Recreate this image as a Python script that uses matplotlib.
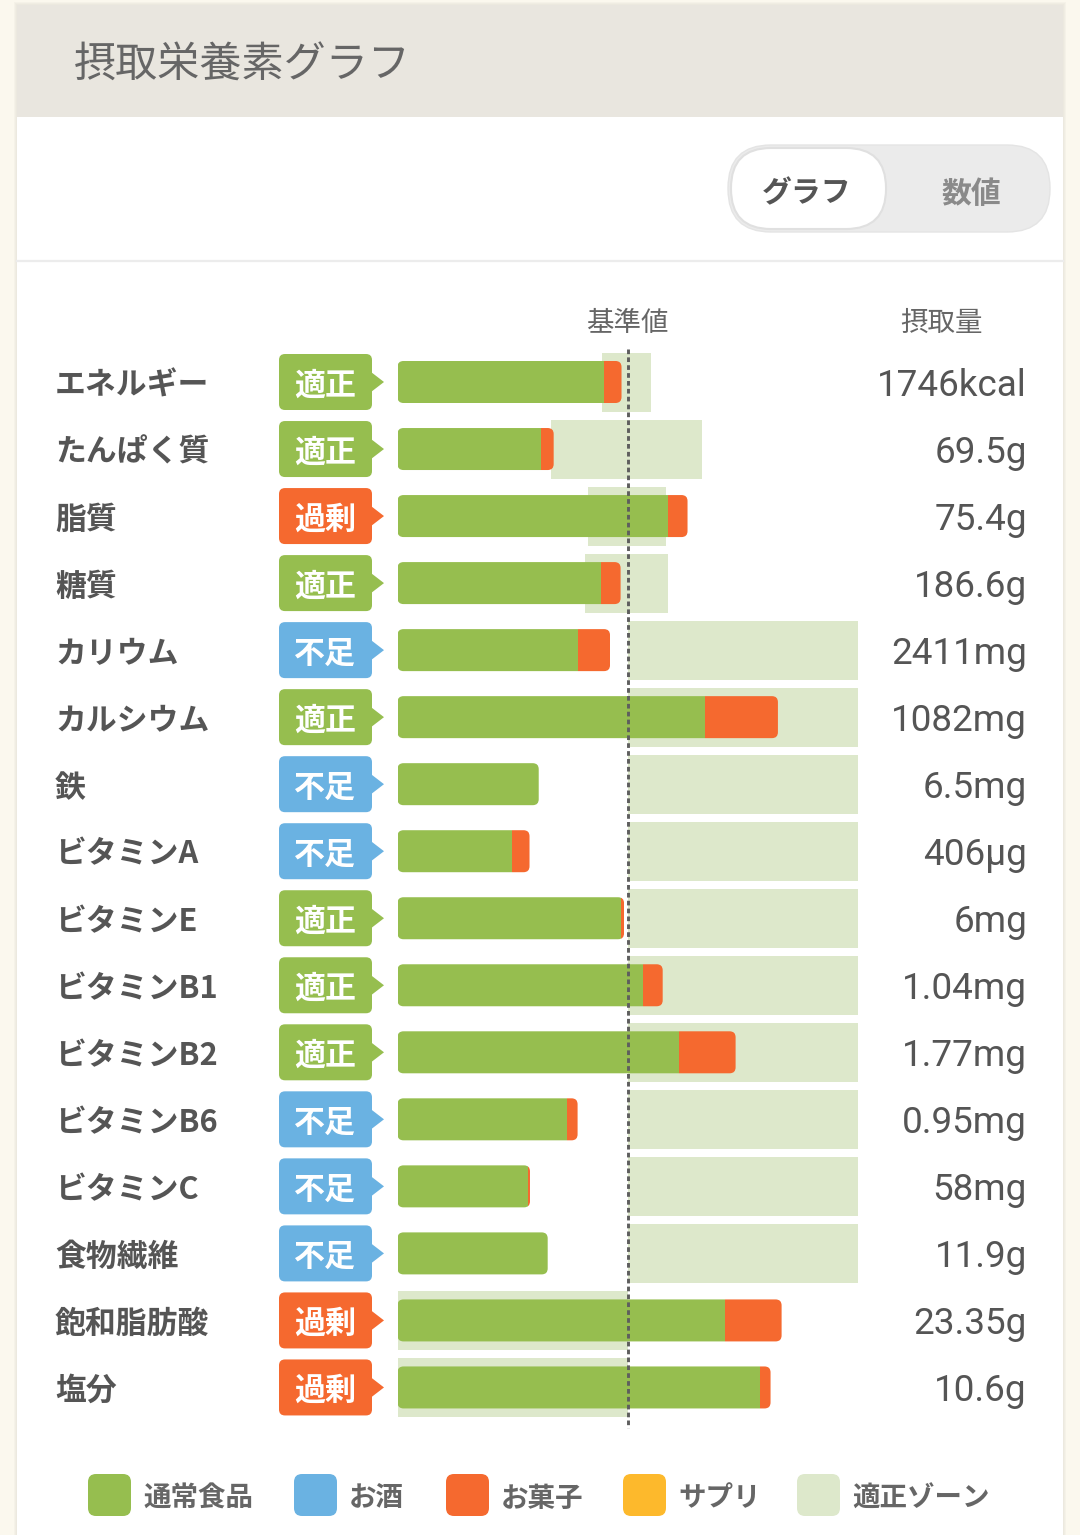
import matplotlib
matplotlib.use("Agg")
import matplotlib.pyplot as plt
from matplotlib.patches import FancyBboxPatch, Rectangle, Polygon
from matplotlib import transforms

plt.rcParams['font.family'] = ['Noto Sans CJK JP', 'DejaVu Sans']

# ---------------- data ----------------
nutrients = ['エネルギー', 'たんぱく質', '脂質', '糖質', 'カリウム', 'カルシウム', '鉄',
             'ビタミンA', 'ビタミンE', 'ビタミンB1', 'ビタミンB2', 'ビタミンB6',
             'ビタミンC', '食物繊維', '飽和脂肪酸', '塩分']
status = ['適正', '適正', '過剰', '適正', '不足', '適正', '不足', '不足', '適正', '適正',
          '適正', '不足', '不足', '不足', '過剰', '過剰']
intake_labels = ['1746kcal', '69.5g', '75.4g', '186.6g', '2411mg', '1082mg', '6.5mg',
                 '406µg', '6mg', '1.04mg', '1.77mg', '0.95mg', '58mg', '11.9g',
                 '23.35g', '10.6g']
# % of the reference value (基準値 = 100)
food_pct = [89.8, 62.4, 117.6, 88.5, 78.5, 133.7, 61.4, 49.8, 97.2, 106.7, 122.4,
            73.7, 56.7, 65.3, 142.2, 157.6]
alcohol_pct = [0] * 16
snack_pct = [7.6, 5.5, 8.5, 8.5, 13.9, 31.7, 0, 7.6, 1.3, 8.6, 24.6, 4.6, 0.9, 0,
             24.8, 4.6]
supplement_pct = [0] * 16
zone_low = [88.7, 66.7, 82.8, 81.5, 100, 100, 100, 100, 100, 100, 100, 100, 100, 100,
            0, 0]
zone_high = [110.4, 132.4, 116.6, 117.4, 200, 200, 200, 200, 200, 200, 200, 200, 200,
             200, 100, 100]
REF = 100
legend_labels = ['通常食品', 'お酒', 'お菓子', 'サプリ', '適正ゾーン']

# ---------------- styles ----------------
C_FOOD = '#96BE4F'
C_ALC = '#6AB2E2'
C_SNACK = '#F5692F'
C_SUPP = '#FDB92C'
C_ZONE = '#DDE8CB'
legend_colors = [C_FOOD, C_ALC, C_SNACK, C_SUPP, C_ZONE]
badge_colors = {'適正': C_FOOD, '過剰': C_SNACK, '不足': C_ALC}
TXT = '#555555'
DY = 3.5  # vertical text nudge in px

W, H = 1080, 1535
fig = plt.figure(figsize=(W / 100, H / 100), dpi=100)
fig.patch.set_facecolor('#FBF8EE')

bg = fig.add_axes([0, 0, 1, 1])
bg.set_xlim(0, W)
bg.set_ylim(H, 0)
bg.axis('off')

# card with soft shadow
for k, a in enumerate([0.025, 0.02, 0.015]):
    bg.add_patch(Rectangle((17 - 3 + k, 5 - 3 + k), 1046 + 6 - 2 * k, H, facecolor='#000000',
                           alpha=a, edgecolor='none', zorder=0))
bg.add_patch(Rectangle((17, 5), 1046, H, facecolor='white', edgecolor='none', zorder=1))
bg.add_patch(Rectangle((17, 5), 1046, 112, facecolor='#E9E6DF', edgecolor='none', zorder=2))
bg.text(74, 62 + DY, '摂取栄養素グラフ', fontsize=30.3, color='#666666', va='center',
        ha='left', zorder=3)
bg.plot([17, 1063], [261, 261], color='#ECECEC', lw=1.6, zorder=2)

# toggle
bg.add_patch(FancyBboxPatch((728, 145), 322, 87, boxstyle='round,pad=0,rounding_size=43',
                            facecolor='#EBEBEB', edgecolor='#E4E4E4', lw=1, zorder=2))
bg.add_patch(FancyBboxPatch((731, 148), 155, 81, boxstyle='round,pad=0,rounding_size=40',
                            facecolor='white', edgecolor='#E0E0E0', lw=1.5, zorder=3))
bg.text(807, 190 + DY, 'グラフ', fontsize=21.5, fontweight='bold', color='#555555',
        ha='center', va='center', zorder=4)
bg.text(971, 190 + DY, '数値', fontsize=21.5, fontweight='bold', color='#8A8A8A',
        ha='center', va='center', zorder=4)

# column headers
bg.text(627, 320 + DY, '基準値', fontsize=19.8, color='#666666', ha='center', va='center',
        zorder=3)
bg.text(941, 320 + DY, '摂取量', fontsize=19.8, color='#666666', ha='center', va='center',
        zorder=3)

# ---------------- bar axes ----------------
n = len(nutrients)
row0, pitch = 382.0, 67.03
top_px, bot_px = 340.0, 1430.0
x0_px, x1_px = 397.5, 857.5
ax = fig.add_axes([x0_px / W, (H - bot_px) / H, (x1_px - x0_px) / W, (bot_px - top_px) / H])
ax.set_xlim(0, 200)
ax.set_ylim((bot_px - row0) / pitch, (top_px - row0) / pitch)
ax.axis('off')
ax.patch.set_alpha(0)

px_per_x = (x1_px - x0_px) / 200.0
asp = px_per_x / pitch
bar_h = 42 / pitch
zone_h = 59 / pitch
r = 6 / px_per_x

for i in range(n):
    lo, hi = zone_low[i], zone_high[i]
    ax.add_patch(Rectangle((lo, i - zone_h / 2), hi - lo, zone_h, facecolor=C_ZONE,
                           edgecolor='none', zorder=1))
    segs = [(food_pct[i], C_FOOD), (alcohol_pct[i], C_ALC), (snack_pct[i], C_SNACK),
            (supplement_pct[i], C_SUPP)]
    total = sum(v for v, _ in segs)
    cum = [0]
    for v, _ in segs:
        cum.append(cum[-1] + v)
    for k in range(len(segs) - 1, -1, -1):
        v, col = segs[k]
        if v <= 0:
            continue
        p = FancyBboxPatch((0, i - bar_h / 2), total, bar_h,
                           boxstyle=f'round,pad=0,rounding_size={r}', mutation_aspect=asp,
                           facecolor=col, edgecolor='none', zorder=3)
        ax.add_patch(p)
        clip = Rectangle((cum[k], i - bar_h), v, 2 * bar_h, transform=ax.transData)
        p.set_clip_path(clip)

ax.vlines(REF, -zone_h / 2 - 0.05, n - 1 + 0.6, colors='#5E5E5E', lw=2.1,
          linestyles=(0, (1.6, 1.1)), zorder=5)

# ---------------- row labels, badges, values ----------------
T = transforms.blended_transform_factory(bg.transData, ax.transData)
badge_h = 56 / pitch
dy = DY / pitch
for i in range(n):
    bg.text(55, i + dy, nutrients[i], transform=T, fontsize=22.2, fontweight='bold',
            color=TXT, ha='left', va='center', zorder=4)
    col = badge_colors[status[i]]
    bg.add_patch(FancyBboxPatch((279, i - badge_h / 2), 93, badge_h,
                                boxstyle='round,pad=0,rounding_size=6',
                                mutation_aspect=1 / pitch, transform=T,
                                facecolor=col, edgecolor='none', zorder=4))
    bg.add_patch(Polygon([(371, i - 10 / pitch), (384, i), (371, i + 10 / pitch)],
                         closed=True, transform=T, facecolor=col, edgecolor='none',
                         zorder=4))
    bg.text(325, i + dy, status[i], transform=T, fontsize=22.3, fontweight='bold',
            color='white', ha='center', va='center', zorder=5)
    bg.text(1027, i + dy, intake_labels[i], transform=T, fontsize=26.6, color=TXT,
            family=['Roboto', 'Noto Sans CJK JP', 'DejaVu Sans'], ha='right', va='center',
            zorder=4)

# ---------------- legend ----------------
leg_x = [88, 294, 446, 623, 797]
for lx, lab, col in zip(leg_x, legend_labels, legend_colors):
    bg.add_patch(FancyBboxPatch((lx, 1474), 43, 42, boxstyle='round,pad=0,rounding_size=8',
                                facecolor=col, edgecolor='none', zorder=4))
    bg.text(lx + 55, 1495 + DY, lab, fontsize=19.8, fontweight='bold', color='#666666',
            ha='left', va='center', zorder=4)

fig.savefig('out.png', dpi=100, facecolor=fig.get_facecolor())
